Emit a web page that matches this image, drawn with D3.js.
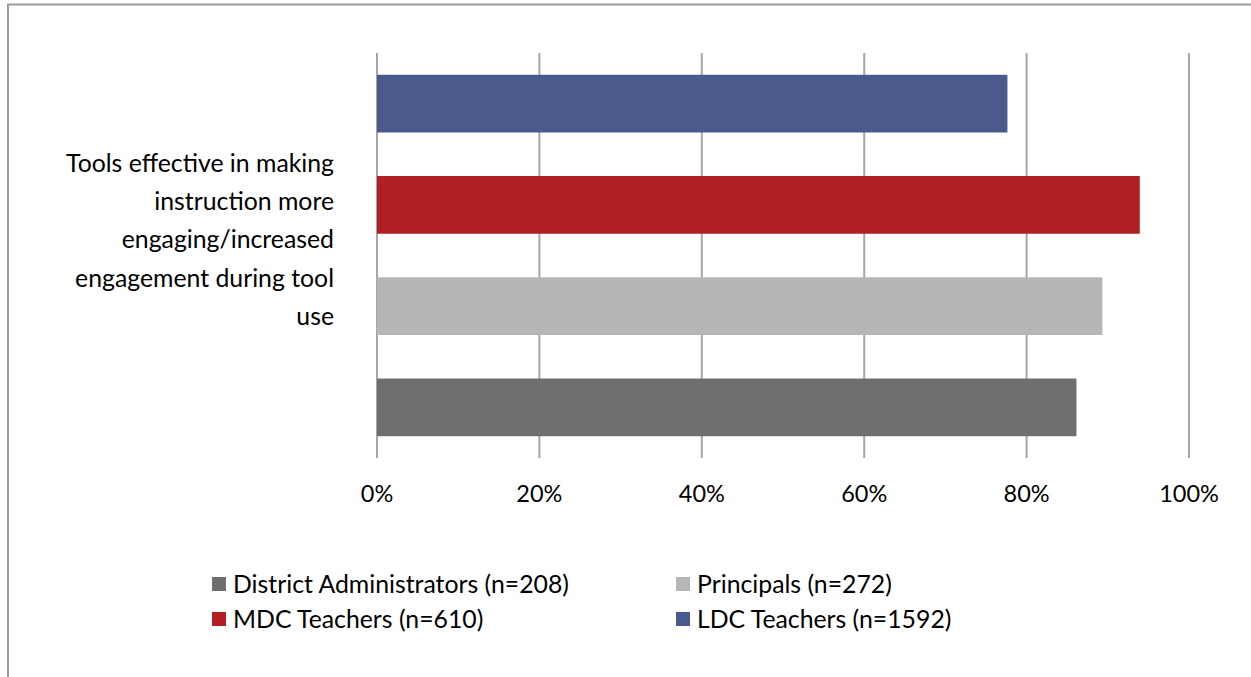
<!DOCTYPE html>
<html>
<head>
<meta charset="utf-8">
<script src="https://cdn.jsdelivr.net/npm/d3@7"></script>
<style>
  html, body { margin: 0; padding: 0; background: #fff; }
  svg { display: block; }
  text { font-family: Lato, "Open Sans", sans-serif; fill: #000; }
</style>
</head>
<body>
<svg id="chart" width="1251" height="677"></svg>
<script>
// ---- data ----
const categories = ["Tools effective in making instruction more engaging/increased engagement during tool use"];
const categoryLabelLines = ["Tools effective in making", "instruction more", "engaging/increased", "engagement during tool", "use"];
const seriesNames = ["District Administrators (n=208)", "Principals (n=272)", "MDC Teachers (n=610)", "LDC Teachers (n=1592)"];
const districtValues = [0.862];
const principalValues = [0.894];
const mdcValues = [0.940];
const ldcValues = [0.777];
const seriesColors = ["#6E6E6E", "#B6B6B6", "#B01F24", "#4A5A8C"];
const tickValues = [0, 0.2, 0.4, 0.6, 0.8, 1.0];

const seriesValues = [districtValues, principalValues, mdcValues, ldcValues];

// ---- layout ----
const W = 1251, H = 677;
const plot = { left: 376.5, right: 1188.5, top: 53, bottom: 458 };
const svg = d3.select("#chart");

// outer frame (partially visible)
svg.append("path")
  .attr("d", `M8,${H + 5} L8,4.5 L${W + 5},4.5`)
  .attr("fill", "none").attr("stroke", "#9b9b9b").attr("stroke-width", 2);

const x = d3.scaleLinear().domain([0, 1]).range([plot.left, plot.right]);
const yCat = d3.scaleBand().domain(categories).range([plot.top, plot.bottom]).padding(0);
// Excel draws the last series on top
const seriesOrder = seriesNames.slice().reverse();
const ySer = d3.scaleBand().domain(seriesOrder).range([0, yCat.bandwidth()]).paddingInner(0.43).paddingOuter(0.215);

// gridlines via axis
const gridAxis = d3.axisBottom(x).tickValues(tickValues).tickSize(-(plot.bottom - plot.top)).tickFormat("");
const grid = svg.append("g").attr("transform", `translate(0,${plot.bottom})`).call(gridAxis);
grid.select(".domain").remove();
grid.selectAll(".tick line").attr("stroke", "#a6a6a6").attr("stroke-width", 2);

// bars
categories.forEach((cat, ci) => {
  const g = svg.append("g").attr("transform", `translate(0,${yCat(cat)})`);
  g.selectAll("rect")
    .data(seriesNames.map((s, si) => ({ s, v: seriesValues[si][ci], c: seriesColors[si] })))
    .join("rect")
    .attr("x", x(0) + 0.5)
    .attr("y", d => ySer(d.s))
    .attr("width", d => x(d.v) - x(0) - 0.5)
    .attr("height", ySer.bandwidth())
    .attr("fill", d => d.c);
});

// tick labels
const labelAxis = d3.axisBottom(x).tickValues(tickValues).tickSize(0).tickPadding(0)
  .tickFormat(d3.format(".0%"));
const lab = svg.append("g").attr("transform", `translate(0,${plot.bottom})`).call(labelAxis);
lab.select(".domain").remove();
lab.selectAll(".tick text")
  .attr("y", 44).attr("dy", 0)
  .style("font-family", "Lato, sans-serif").style("font-size", "23.5px").attr("fill", "#000");

// category label
categories.forEach(cat => {
  const cy = yCat(cat) + yCat.bandwidth() / 2;
  const t = svg.append("text")
    .attr("text-anchor", "end")
    .style("font-size", "24.8px");
  categoryLabelLines.forEach((line, i) => {
    t.append("tspan").attr("x", 334).attr("y", cy - 83.5 + i * 38.2).text(line);
  });
});

// legend
const legendPos = [
  { x: 212, y: 584 },
  { x: 676, y: 584 },
  { x: 212, y: 619 },
  { x: 676, y: 619 }
];
const leg = svg.append("g");
seriesNames.forEach((s, i) => {
  const p = legendPos[i];
  leg.append("rect").attr("x", p.x).attr("y", p.y - 7).attr("width", 14).attr("height", 14).attr("fill", seriesColors[i]);
  leg.append("text").attr("x", p.x + 21).attr("y", p.y).attr("dy", "0.35em")
    .style("font-size", "24.8px").text(s);
});
</script>
</body>
</html>
